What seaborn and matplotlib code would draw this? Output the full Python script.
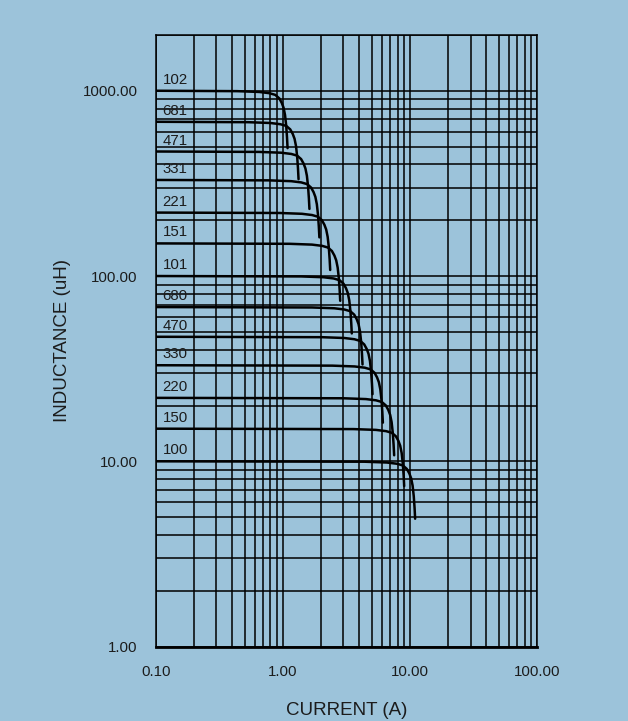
import numpy as np
import pandas as pd
import matplotlib
matplotlib.use("Agg")
import matplotlib.pyplot as plt
import matplotlib.ticker as mticker
import seaborn as sns

# inductor codes (EIA) and nominal inductance in uH
codes = ["102", "681", "471", "331", "221", "151", "101",
         "680", "470", "330", "220", "150", "100"]
l_nominal = [1000, 680, 470, 330, 220, 150, 100, 68, 47, 33, 22, 15, 10]
# current where each curve ends (A)
i_end = [1.09, 1.33, 1.62, 1.94, 2.36, 2.83, 3.49, 4.24, 5.08, 6.13, 7.52, 9.02, 11.0]

# roll-off shape: fraction of end current / fraction of L
shape_r = [0.4, 0.6, 0.72, 0.8, 0.86, 0.9, 0.93, 0.955, 0.975, 0.99, 1.0]
shape_k = [0.995, 0.985, 0.97, 0.95, 0.91, 0.86, 0.81, 0.74, 0.65, 0.56, 0.49]

x_ticks = [0.1, 1, 10, 100]
y_ticks = [1, 10, 100, 1000]

bg = "#9cc3da"
ink = "#1c1c1c"

rows = []
for code, l0, ie in zip(codes, l_nominal, i_end):
    rows.append((code, 0.1, l0))
    for r, k in zip(shape_r, shape_k):
        rows.append((code, r * ie, k * l0))
df = pd.DataFrame(rows, columns=["code", "current", "inductance"])

sns.set_style("white")
plt.rcParams["font.family"] = ["Liberation Sans", "DejaVu Sans"]

fig = plt.figure(figsize=(6.28, 7.21), dpi=100, facecolor=bg)
ax = fig.add_axes([0.248, 0.1032, 0.607, 0.8483])
ax.set_facecolor(bg)
ax.set_xscale("log")
ax.set_yscale("log")

sns.lineplot(data=df, x="current", y="inductance", units="code",
             estimator=None, sort=False, color="black", lw=1.8, ax=ax)

for code, l0 in zip(codes, l_nominal):
    ax.text(0.113, l0 * 1.09, code, fontsize=10.8, color=ink,
            ha="left", va="baseline")

ax.set_xlim(0.1, 100)
ax.set_ylim(1, 2000)
ax.set_xticks(x_ticks)
ax.set_yticks(y_ticks)
ax.xaxis.set_major_formatter(mticker.FuncFormatter(lambda v, p: f"{v:.2f}"))
ax.yaxis.set_major_formatter(mticker.FuncFormatter(lambda v, p: f"{v:.2f}"))
ax.xaxis.set_minor_locator(mticker.LogLocator(base=10, subs=np.arange(2, 10)))
ax.yaxis.set_minor_locator(mticker.LogLocator(base=10, subs=np.arange(2, 10)))
ax.xaxis.set_minor_formatter(mticker.NullFormatter())
ax.yaxis.set_minor_formatter(mticker.NullFormatter())
ax.tick_params(which="both", length=0, labelsize=10.8, colors=ink)
ax.tick_params(axis="x", pad=13)
ax.tick_params(axis="y", pad=13)
ax.grid(which="both", color="black", lw=1.1)

for side in ["left", "top", "right"]:
    ax.spines[side].set_color("black")
    ax.spines[side].set_linewidth(1.1)
ax.spines["bottom"].set_color("black")
ax.spines["bottom"].set_linewidth(2.0)

ax.set_xlabel("CURRENT (A)", fontsize=13.5, color=ink)
ax.set_ylabel("INDUCTANCE (uH)", fontsize=13.5, color=ink)
ax.xaxis.label.set_va("center")
ax.yaxis.label.set_va("center")
ax.xaxis.set_label_coords(0.5, -0.1037)
ax.yaxis.set_label_coords(-0.2457, 0.5)

fig.savefig("out.png", dpi=100, facecolor=bg)
